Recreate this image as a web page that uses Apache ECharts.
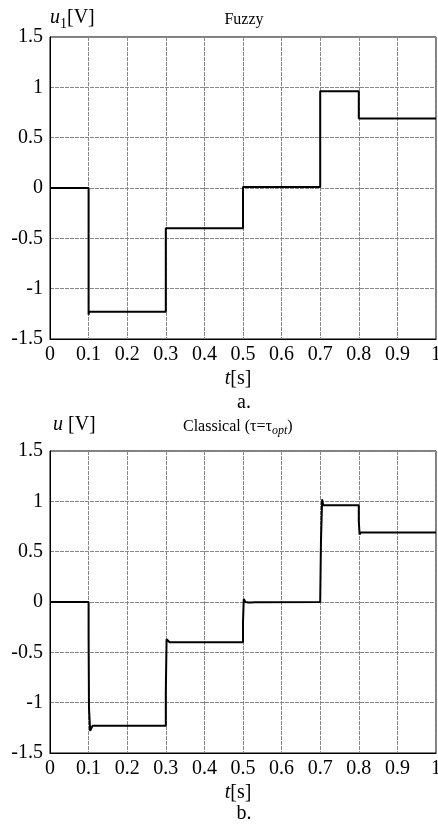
<!DOCTYPE html>
<html>
<head>
<meta charset="utf-8">
<script src="https://cdn.jsdelivr.net/npm/echarts@6/dist/echarts.min.js"></script>
<style>
  html, body { margin: 0; padding: 0; background: #fff; }
  #chart { width: 438px; height: 827px; }
</style>
</head>
<body>
<div id="chart"></div>
<script>
// x ticks and y ticks
var xTicks = [0, 0.1, 0.2, 0.3, 0.4, 0.5, 0.6, 0.7, 0.8, 0.9, 1];
var yTicks = [-1.5, -1, -0.5, 0, 0.5, 1, 1.5];

// (a) fuzzy controller output, step points [t, u1]
var fuzzyT = [0, 0.1, 0.1, 0.101, 0.3, 0.3, 0.5, 0.5, 0.7, 0.7, 0.8, 0.8, 1];
var fuzzyU = [0, 0, -1.26, -1.23, -1.23, -0.40, -0.40, 0.01, 0.01, 0.96, 0.96, 0.69, 0.69];

// (b) classical controller output, [t, u]
var classT = [0, 0.1, 0.1, 0.101, 0.101, 0.104, 0.106, 0.11, 0.3, 0.3, 0.302, 0.305, 0.31,
  0.5, 0.5, 0.502, 0.506, 0.51, 0.514, 0.518, 0.522, 0.526, 0.53, 0.534, 0.538, 0.542,
  0.7, 0.7, 0.702, 0.705, 0.708, 0.8, 0.8, 0.802, 0.805, 0.81, 1];
var classU = [0, 0, -0.33, -0.33, -1.05, -1.28, -1.27, -1.23, -1.23, -0.9, -0.37, -0.38, -0.40,
  -0.40, -0.2, 0.03, 0.0, 0.012, -0.005, 0.01, -0.004, 0.008, -0.003, 0.006, -0.002, 0.0,
  0.0, 0.01, 0.6, 1.02, 0.96, 0.96, 0.8, 0.67, 0.69, 0.69, 0.69];

function pairs(t, u) {
  return t.map(function (v, i) { return [v, u[i]]; });
}

var serif = '"Times New Roman", "Liberation Serif", serif';

function xAxis(gi) {
  return {
    type: 'value', gridIndex: gi, min: 0, max: 1, interval: 0.1,
    axisLine: { show: true, onZero: false, lineStyle: { color: '#000', width: 1 } },
    axisTick: { show: false },
    splitLine: { show: true, lineStyle: { color: '#888', type: [4, 1], width: 1 } },
    axisLabel: {
      color: '#000', fontFamily: serif, fontSize: 20, margin: 6,
      showMinLabel: true, showMaxLabel: true, hideOverlap: false,
      formatter: function (v) { return String(Math.round(v * 10) / 10); }
    }
  };
}
function yAxis(gi) {
  return {
    type: 'value', gridIndex: gi, min: -1.5, max: 1.5, interval: 0.5,
    axisLine: { show: true, onZero: false, lineStyle: { color: '#000', width: 1 } },
    axisTick: { show: false },
    splitLine: { show: true, lineStyle: { color: '#888', type: [4, 1], width: 1 } },
    axisLabel: {
      color: '#000', fontFamily: serif, fontSize: 20, margin: 7,
      formatter: function (v) { return String(v); }
    }
  };
}

function label(x, y, text, rich, align) {
  return { type: 'text', style: {
    x: x, y: y, text: text, rich: rich, fill: '#000',
    textAlign: align || 'center', textVerticalAlign: 'middle'
  } };
}
var ital = { fontFamily: serif, fontStyle: 'italic', fontSize: 20, fill: '#000' };
var norm = { fontFamily: serif, fontSize: 20, fill: '#000' };

var option = {
  backgroundColor: '#fff',
  animation: false,
  grid: [
    { left: 50, right: 2, top: 37, height: 302, show: true, borderColor: '#000', borderWidth: 1,
      containLabel: false, outerBoundsMode: 'none' },
    { left: 50, right: 2, top: 451, height: 302, show: true, borderColor: '#000', borderWidth: 1,
      containLabel: false, outerBoundsMode: 'none' }
  ],
  xAxis: [xAxis(0), xAxis(1)],
  yAxis: [yAxis(0), yAxis(1)],
  graphic: [
    label(50, 18, '{i|u}{s|1}{n|[V]}', {
      i: ital, s: { fontFamily: serif, fontSize: 14, fill: '#000', padding: [12, 0, 0, 0] }, n: norm
    }, 'left'),
    label(244, 20, '{n|Fuzzy}', { n: { fontFamily: serif, fontSize: 16, fill: '#000' } }),
    label(238, 379, '{i|t}{n|[s]}', { i: ital, n: norm }),
    label(244, 403, '{n|a.}', { n: norm }),
    label(53, 425, '{i|u}{n| [V]}', { i: ital, n: norm }, 'left'),
    label(183, 427, '{n|Classical (τ=τ}{o|opt}{n|)}', {
      n: { fontFamily: serif, fontSize: 16, fill: '#000' },
      o: { fontFamily: serif, fontStyle: 'italic', fontSize: 12, fill: '#000', padding: [7, 0, 0, 0] }
    }, 'left'),
    label(238, 793, '{i|t}{n|[s]}', { i: ital, n: norm }),
    label(244, 814, '{n|b.}', { n: norm })
  ],
  series: [
    { type: 'line', xAxisIndex: 0, yAxisIndex: 0, data: pairs(fuzzyT, fuzzyU),
      showSymbol: false, lineStyle: { color: '#000', width: 2 } },
    { type: 'line', xAxisIndex: 1, yAxisIndex: 1, data: pairs(classT, classU),
      showSymbol: false, lineStyle: { color: '#000', width: 2 } }
  ]
};

var myChart = echarts.init(document.getElementById('chart'));
myChart.setOption(option);
</script>
</body>
</html>
